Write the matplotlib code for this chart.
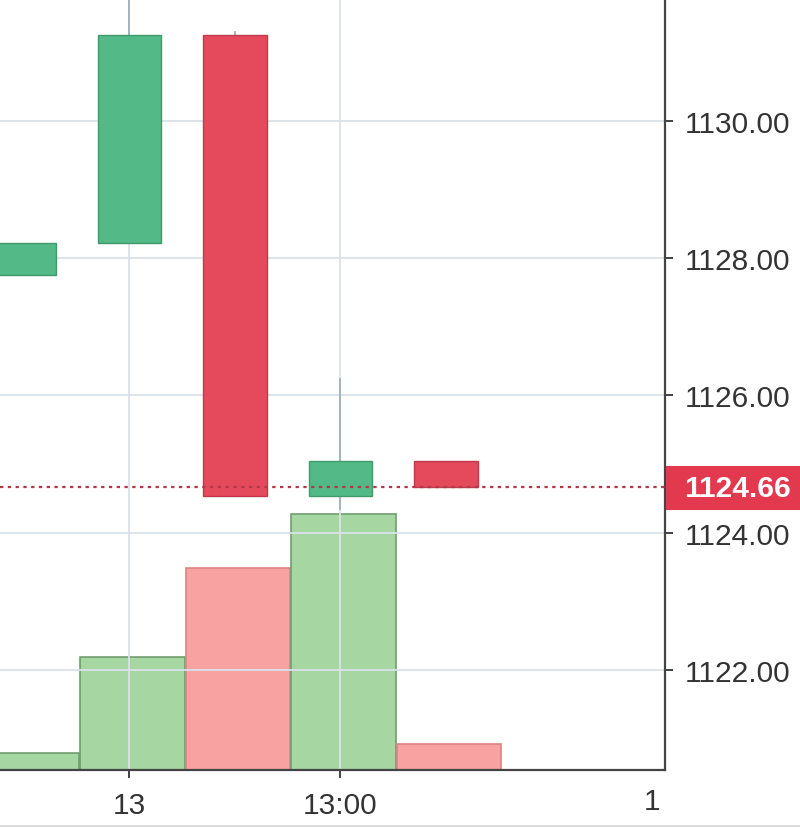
import matplotlib.pyplot as plt
from matplotlib.patches import Rectangle

# =========================
# DATA
# =========================
opens = [1127.76, 1128.22, 1131.25, 1124.54, 1125.05]
highs = [1128.23, 1132.60, 1131.30, 1126.24, 1125.05]
lows = [1127.76, 1128.22, 1124.54, 1124.34, 1124.66]
closes = [1128.23, 1131.25, 1124.54, 1125.05, 1124.66]
volumes = [170, 1130, 2020, 2560, 260]

last_price = 1124.66
price_ticks = [1122, 1124, 1126, 1128, 1130]
time_ticks = [1, 3]
time_labels = ["13", "13:00"]

GREEN = "#53b987"
GREEN_EDGE = "#3f9a6c"
RED = "#e5495c"
RED_EDGE = "#c13a4b"
VOL_GREEN = "#a6d6a2"
VOL_GREEN_EDGE = "#6f9e6e"
VOL_RED = "#f9a2a2"
VOL_RED_EDGE = "#d98585"
GRID = "#d9e2e8"
TEXT = "#333333"

plt.rcParams["font.family"] = ["Liberation Sans", "DejaVu Sans"]

fig = plt.figure(figsize=(8, 8.28), dpi=100)
ax = fig.add_axes([0, 57 / 828, 665 / 800, 771 / 828])
ax_v = ax.twinx()

# =========================
# VOLUME
# =========================
for i, v in enumerate(volumes):
    up = closes[i] >= opens[i]
    ax_v.bar(i + 0.03, v, width=0.99,
             color=VOL_GREEN if up else VOL_RED,
             edgecolor=VOL_GREEN_EDGE if up else VOL_RED_EDGE,
             linewidth=1.2)
ax_v.set_ylim(0, 7710)
ax_v.set_yticks([])
for s in ax_v.spines.values():
    s.set_visible(False)

ax.set_zorder(ax_v.get_zorder() + 1)
ax.patch.set_visible(False)

# =========================
# CANDLES
# =========================
body_w = 0.6
for i in range(len(opens)):
    up = closes[i] >= opens[i]
    col = GREEN if up else RED
    edge = GREEN_EDGE if up else RED_EDGE
    if highs[i] > max(opens[i], closes[i]) or lows[i] < min(opens[i], closes[i]):
        ax.plot([i, i], [lows[i], highs[i]], color="#9fb0ba", lw=1.3, zorder=2)
    lo = min(opens[i], closes[i])
    hi = max(opens[i], closes[i])
    ax.add_patch(Rectangle((i - body_w / 2, lo), body_w, hi - lo,
                           facecolor=col, edgecolor=edge, lw=1, zorder=3))

# last price line
ax.axhline(last_price, color="#b23a48", lw=1.6, ls=(0, (1.5, 2)), zorder=4)

ax.set_xlim(-0.2275, 6.076)
ax.set_ylim(1120.54, 1131.78)

ax.set_yticks(price_ticks)
ax.set_yticklabels([f"{p:.2f}" for p in price_ticks])
ax.yaxis.tick_right()
ax.set_xticks(time_ticks)
ax.set_xticklabels(time_labels)
ax.tick_params(axis="both", labelsize=21.5, colors=TEXT, length=6, width=1.3)
ax.tick_params(axis="y", pad=8)
ax.tick_params(axis="x", pad=9)

ax.grid(True, color=GRID, lw=1.3, zorder=0)
ax.set_axisbelow(True)

for name in ["top", "left"]:
    ax.spines[name].set_visible(False)
for name in ["right", "bottom"]:
    ax.spines[name].set_color("#444444")
    ax.spines[name].set_linewidth(1.6)

# cut-off tick label at the right edge
ax.text(5.95, -0.0215, "1", transform=ax.get_xaxis_transform(),
        ha="center", va="top", fontsize=21.5, color=TEXT, clip_on=False)

# last price tag
fig.add_artist(Rectangle((666 / 800, (828 - 511) / 828), 134 / 800, 44 / 828,
                         transform=fig.transFigure, facecolor="#e2394f",
                         edgecolor="none", zorder=5))
fig.text(738 / 800, (828 - 489) / 828, f"{last_price:.2f}",
         ha="center", va="center", fontsize=21.5, fontweight="bold",
         color="white", zorder=6)

# thin line at the bottom of the picture
fig.add_artist(plt.Line2D([0, 1], [1.5 / 828, 1.5 / 828], color="#d8d8d8", lw=2))

fig.savefig("out.png", dpi=100)
